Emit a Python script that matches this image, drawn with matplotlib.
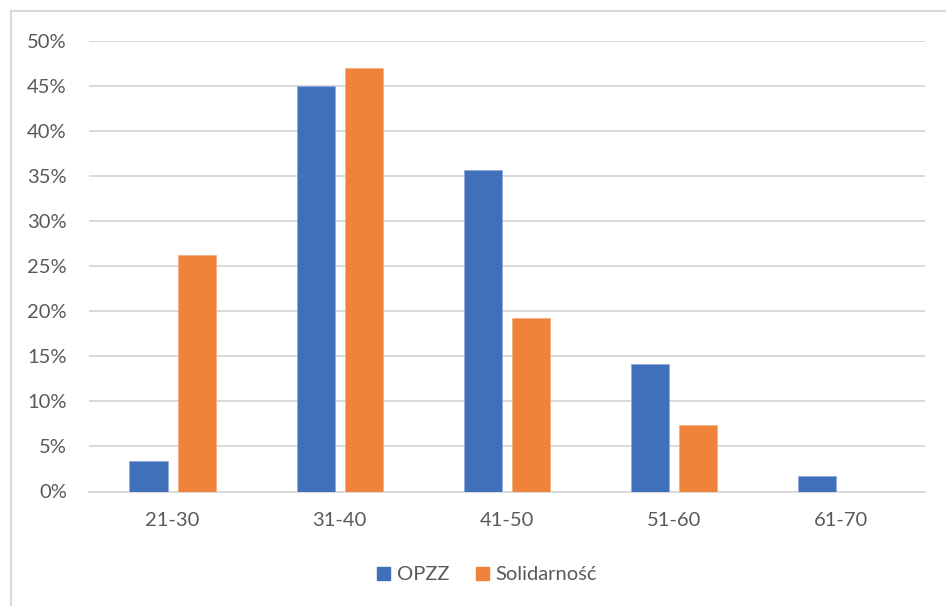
import matplotlib
matplotlib.use("Agg")
import matplotlib.pyplot as plt
from matplotlib.lines import Line2D
from matplotlib.ticker import FuncFormatter, MultipleLocator
import numpy as np

categories = ["21-30", "31-40", "41-50", "51-60", "61-70"]
opzz = [3.4, 45.0, 35.6, 14.1, 1.7]
solidarnosc = [26.2, 47.0, 19.2, 7.4, 0.0]
series_names = ["OPZZ", "Solidarność"]
colors = ["#3F70B9", "#F0833A"]

plt.rcParams['font.family'] = ['Lato', 'DejaVu Sans']

W, H = 946, 606
fig = plt.figure(figsize=(W / 100, H / 100), dpi=100)
ax = fig.add_axes([89 / W, 1 - 491.5 / H, (925 - 89) / W, (491.5 - 40.5) / H])

x = np.arange(len(categories))
bw = 0.228
gap = 0.06
off = (bw + gap) / 2
ax.bar(x - off, opzz, bw, color=colors[0], edgecolor="#8FAADC", linewidth=0.6, label=series_names[0], zorder=3)
ax.bar(x + off, solidarnosc, bw, color=colors[1], edgecolor="#F4B183", linewidth=0.6, label=series_names[1], zorder=3)

ax.set_xlim(-0.5, len(categories) - 0.5)
ax.set_ylim(0, 50)
ax.yaxis.set_major_locator(MultipleLocator(5))
ax.yaxis.set_major_formatter(FuncFormatter(lambda v, p: f"{int(round(v))}%"))
ax.set_xticks(x)
ax.set_xticklabels(categories)
ax.grid(axis="y", color="#D9D9D9", linewidth=1.4, zorder=0)
for s in ["top", "right", "left"]:
    ax.spines[s].set_visible(False)
ax.spines["bottom"].set_color("#D9D9D9")
ax.spines["bottom"].set_linewidth(1.4)
ax.tick_params(axis="both", length=0, labelsize=14.5, labelcolor="#595959")
ax.tick_params(axis="y", pad=16)
ax.tick_params(axis="x", pad=15)

handles = [plt.Rectangle((0, 0), 1, 1, color=c) for c in colors]
fig.legend(handles, series_names, loc="center", bbox_to_anchor=(487 / W, 1 - 575 / H),
           ncol=2, frameon=False, fontsize=14.5, labelcolor="#595959",
           handlelength=0.65, handleheight=0.65, handletextpad=0.35, columnspacing=1.3)

# chart border (left and top visible)
fig.add_artist(Line2D([10.5 / W, 10.5 / W], [0, 1 - 11 / H], transform=fig.transFigure, color="#D9D9D9", linewidth=1.5))
fig.add_artist(Line2D([10.5 / W, 1], [1 - 11 / H, 1 - 11 / H], transform=fig.transFigure, color="#D9D9D9", linewidth=1.5))

fig.savefig("out.png", dpi=100)
